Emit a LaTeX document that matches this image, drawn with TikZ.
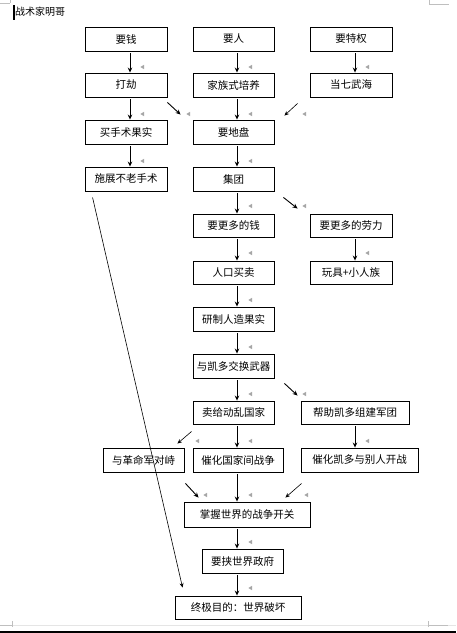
\documentclass[tikz,border=0pt]{standalone}
\usepackage{fontspec}
\newfontfamily\cjk{Noto Sans CJK SC}
\usetikzlibrary{arrows.meta,calc}
\tikzset{
  box/.style={draw, line width=0.9pt, inner sep=0pt, minimum height=24pt, font=\cjk\fontsize{10.5}{12}\selectfont},
  arr/.style={line width=0.9pt, -{Stealth[length=5pt,width=4.5pt]}},
  thinarr/.style={line width=0.6pt, -{Stealth[length=4.5pt,width=4pt]}},
  mk/.style={fill=black!35},
  corner/.style={draw=black!25, line width=0.6pt}
}
\newcommand{\pmark}[1]{\fill[mk] (#1) ++(2,-2.2) -- ++(-3.6,2.2) -- ++(3.6,2.2) -- cycle;}
\begin{document}
\begin{tikzpicture}[x=1pt,y=-1pt]
\useasboundingbox (0,0) rectangle (456,633);
\fill[white] (0,0) rectangle (456,633);
% page marks
\draw[corner] (0,3) -- (10,3) (10,0) -- (10,3);
\draw[corner] (429,0) -- (429,4) -- (449,4);
\draw[draw=black!10, line width=1pt] (0,625) -- (456,625);
\draw[corner] (0,625) -- (12,625) (12,621) -- (12,627);
\draw[corner] (428,625) -- (448,625) (428,621) -- (428,627);
\fill (0,630.5) rectangle (456,633);
% title
\fill (12.5,5) rectangle (14.5,19.5);
\node[font=\cjk\fontsize{10}{12}\selectfont, anchor=west, inner sep=0pt] (title) at (15,12) {战术家明哥};
% columns
\coordinate (xa) at (130,0);
\coordinate (xb) at (237,0);
\coordinate (xc) at (355,0);
% boxes
\node[box, minimum width=82pt] (yq) at (126,39) {要钱};
\node[box, minimum width=81pt] (yr) at (233.5,39) {要人};
\node[box, minimum width=82pt] (yt) at (351,39) {要特权};
\node[box, minimum width=82pt] (dj) at (126,85) {打劫};
\node[box, minimum width=81pt] (jz) at (233.5,85) {家族式培养};
\node[box, minimum width=82pt] (qw) at (351,85) {当七武海};
\node[box, minimum width=82pt] (ms) at (126,132) {买手术果实};
\node[box, minimum width=81pt] (dp) at (233.5,132) {要地盘};
\node[box, minimum width=82pt] (bl) at (126,179) {施展不老手术};
\node[box, minimum width=81pt] (jt) at (233.5,179) {集团};
\node[box, minimum width=81pt, minimum height=23pt] (gq) at (233.5,225.5) {要更多的钱};
\node[box, minimum width=82pt, minimum height=23pt] (gl) at (351,225.5) {要更多的劳力};
\node[box, minimum width=81pt, minimum height=23pt] (rk) at (233.5,272.5) {人口买卖};
\node[box, minimum width=82pt, minimum height=23pt] (wj) at (351,272.5) {玩具+小人族};
\node[box, minimum width=81pt] (rz) at (233.5,319) {研制人造果实};
\node[box, minimum width=81pt] (kd) at (233.5,366) {与凯多交换武器};
\node[box, minimum width=81pt, minimum height=23pt] (mg) at (233.5,412.5) {卖给动乱国家};
\node[box, minimum width=108pt, minimum height=23pt] (bz) at (355,412.5) {帮助凯多组建军团};
\node[box, minimum width=81pt] (gm) at (143.5,460) {与革命军对峙};
\node[box, minimum width=90pt] (ch) at (238,460) {催化国家间战争};
\node[box, minimum width=117pt] (ck) at (359.5,460) {催化凯多与别人开战};
\node[box, minimum width=126pt, minimum height=25pt] (zw) at (247,514.5) {掌握世界的战争开关};
\node[box, minimum width=81pt] (yx) at (242.5,561) {要挟世界政府};
\node[box, minimum width=126pt, minimum height=23pt] (zj) at (238,607.5) {终极目的：世界破坏};
% vertical arrows
\foreach \a/\b in {yq/dj,dj/ms,ms/bl}
  \draw[arr] ($(\a.south -| xa)+(0,2)$) -- (\b.north -| xa);
\foreach \a/\b in {yr/jz,jz/dp,dp/jt,jt/gq,gq/rk,rk/rz,rz/kd,kd/mg,mg/ch,ch/zw,zw/yx,yx/zj}
  \draw[arr] ($(\a.south -| xb)+(0,2)$) -- (\b.north -| xb);
\foreach \a/\b in {yt/qw,gl/wj,bz/ck}
  \draw[arr] ($(\a.south -| xc)+(0,2)$) -- (\b.north -| xc);
% diagonal arrows
\draw[arr] ($(dj.south east)+(0,5)$) -- ($(dp.north west)+(-12,-5)$);
\draw[thinarr] ($(qw.south west)+(-12,6)$) -- ($(dp.north east)+(10,-4)$);
\draw[arr] ($(jt.south east)+(9,6)$) -- ($(gl.north west)+(-12,-5)$);
\draw[arr] ($(kd.south east)+(10,5)$) -- ($(bz.north west)+(-3,-5)$);
\draw[thinarr] ($(mg.south west)+(-1,7)$) -- ($(gm.north east)+(-7,-4)$);
\draw[arr] ($(gm.south east)+(1,11)$) -- ($(zw.north west)+(15,-4)$);
\draw[thinarr] ($(ck.south west)+(1,11)$) -- ($(zw.north east)+(-25,-4)$);
\draw[thinarr] ($(bl.south west)+(8,6)$) -- ($(zj.north west)+(8,-8)$);
% anchor marks
\pmark{142,67} \pmark{250,67} \pmark{367,67}
\pmark{142,114} \pmark{188,114} \pmark{250,114} \pmark{304,114}
\pmark{142,161} \pmark{250,161}
\pmark{250,206} \pmark{304,206}
\pmark{250,253} \pmark{367,253}
\pmark{250,300}
\pmark{250,347}
\pmark{250,394} \pmark{304,394}
\pmark{197,441} \pmark{250,441} \pmark{367,441}
\pmark{205,495} \pmark{250,495} \pmark{306,495}
\pmark{250,542}
\pmark{250,588}
\end{tikzpicture}
\end{document}
